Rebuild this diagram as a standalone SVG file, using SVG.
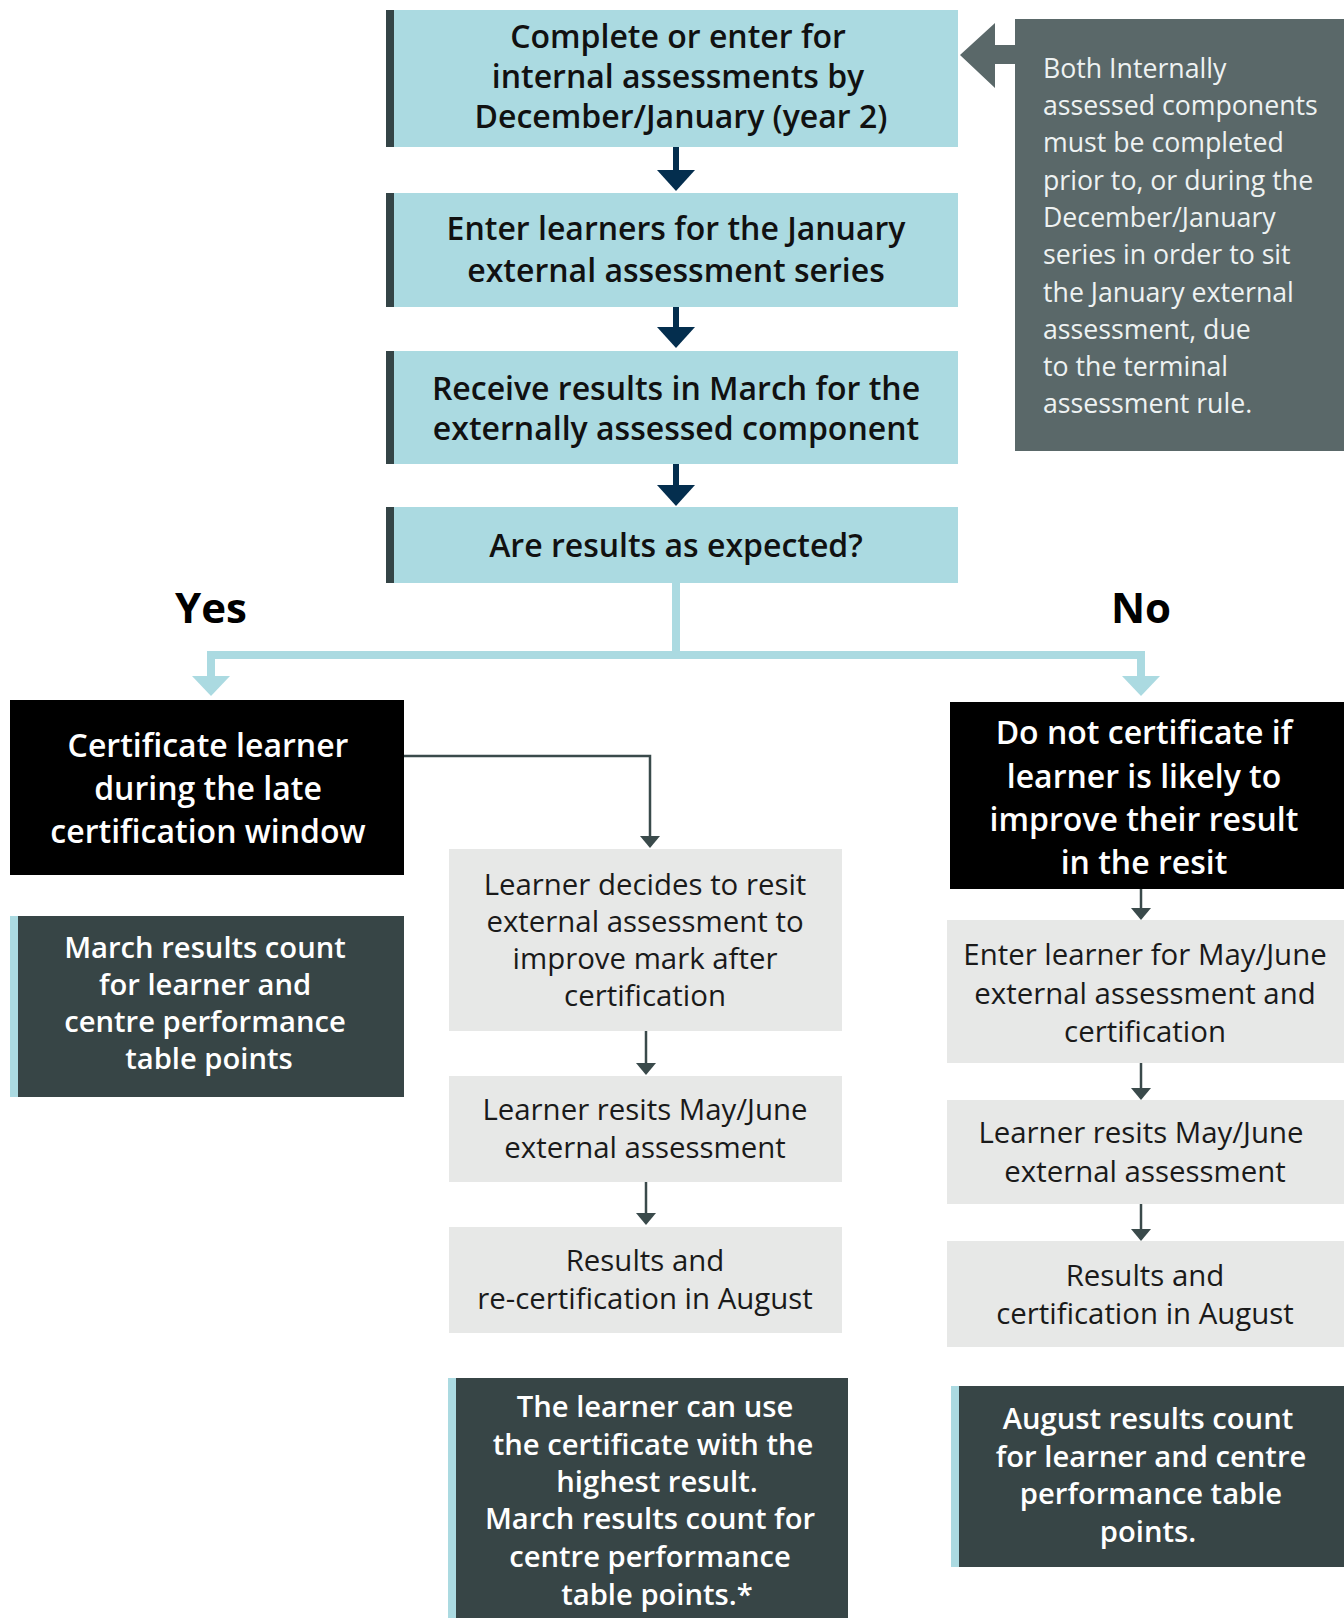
<svg xmlns="http://www.w3.org/2000/svg" width="1344" height="1618" viewBox="0 0 1344 1618">
<defs>
<style>
text{font-family:"Open Sans","Noto Sans","Liberation Sans",sans-serif;text-anchor:middle}
.blue{fill:#abdae1}
.bar{fill:#344446}
.t1{font-size:32px;font-weight:600;fill:#111}
.blk{fill:#000}
.tw{font-size:32px;font-weight:600;fill:#fff}
.grey{fill:#e7e8e7}
.tg{font-size:29.4px;font-weight:400;fill:#1a1a1a}
.dark{fill:#374546}
.lb{fill:#abdae1}
.td{font-size:29.2px;font-weight:600;fill:#fff}
.note{fill:#5a6869}
.tn{font-size:26.7px;font-weight:400;fill:#eef2f2;text-anchor:start}
.yn{font-size:42px;font-weight:700;fill:#000}
.navy{fill:#042e4e}
.sm{stroke:#3a4a4b;stroke-width:2.5;fill:none}
.smh{fill:#3a4a4b}
</style>
</defs>

<g id="connectors">
<rect class="navy" x="673" y="147" width="6" height="24"/><polygon class="navy" points="657,170 695,170 676,191"/>
<rect class="navy" x="673" y="307" width="6" height="22"/><polygon class="navy" points="657,327 695,327 676,348"/>
<rect class="navy" x="673" y="464" width="6" height="22"/><polygon class="navy" points="657,485 695,485 676,506"/>
<path d="M676,583 V655 M211,655 H1141 M211,651 V678 M1141,651 V678" stroke="#abdae1" stroke-width="8" fill="none"/>
<polygon fill="#abdae1" points="192,676 230,676 211,696"/>
<polygon fill="#abdae1" points="1122,676 1160,676 1141,696"/>
<polygon class="note" points="960,55 995,23 995,45 1016,45 1016,64 995,64 995,88"/>
<path class="sm" d="M404,756 H650 V838"/><polygon class="smh" points="640,836 660,836 650,848"/>
<path class="sm" d="M646,1031 V1066"/><polygon class="smh" points="636,1063 656,1063 646,1075"/>
<path class="sm" d="M646,1182 V1214"/><polygon class="smh" points="636,1213 656,1213 646,1225"/>
<path class="sm" d="M1141,889 V909"/><polygon class="smh" points="1131,908 1151,908 1141,920"/>
<path class="sm" d="M1141,1063 V1089"/><polygon class="smh" points="1131,1088 1151,1088 1141,1100"/>
<path class="sm" d="M1141,1204 V1230"/><polygon class="smh" points="1131,1229 1151,1229 1141,1241"/>
</g>

<g id="n1"><rect class="blue" x="386" y="10" width="572" height="137"/><rect class="bar" x="386" y="10" width="8" height="137"/>
<text class="t1" x="678" y="48">Complete or enter for</text><text class="t1" x="678" y="88">internal assessments by</text><text class="t1" x="681" y="128">December/January (year 2)</text></g>

<g id="n2"><rect class="blue" x="386" y="193" width="572" height="114"/><rect class="bar" x="386" y="193" width="8" height="114"/>
<text class="t1" x="676" y="240">Enter learners for the January</text><text class="t1" x="676" y="282">external assessment series</text></g>

<g id="n3"><rect class="blue" x="386" y="351" width="572" height="113"/><rect class="bar" x="386" y="351" width="8" height="113"/>
<text class="t1" x="676" y="400">Receive results in March for the</text><text class="t1" x="676" y="440">externally assessed component</text></g>

<g id="n4"><rect class="blue" x="386" y="507" width="572" height="76"/><rect class="bar" x="386" y="507" width="8" height="76"/>
<text class="t1" x="676" y="557">Are results as expected?</text></g>

<g id="note"><rect class="note" x="1015" y="19" width="329" height="432"/>
<text class="tn" x="1043" y="78">Both Internally</text>
<text class="tn" x="1043" y="115">assessed components</text>
<text class="tn" x="1043" y="152">must be completed</text>
<text class="tn" x="1043" y="190">prior to, or during the</text>
<text class="tn" x="1043" y="227">December/January</text>
<text class="tn" x="1043" y="264">series in order to sit</text>
<text class="tn" x="1043" y="302">the January external</text>
<text class="tn" x="1043" y="339">assessment, due</text>
<text class="tn" x="1043" y="376">to the terminal</text>
<text class="tn" x="1043" y="413">assessment rule.</text></g>

<g id="yes"><text class="yn" x="211" y="623">Yes</text></g>
<g id="no"><text class="yn" x="1141" y="623">No</text></g>

<g id="certify"><rect class="blk" x="10" y="700" width="394" height="175"/>
<text class="tw" x="208" y="757">Certificate learner</text><text class="tw" x="208" y="800">during the late</text><text class="tw" x="208" y="843">certification window</text></g>

<g id="march"><rect class="dark" x="10" y="916" width="394" height="181"/><rect class="lb" x="10" y="916" width="8" height="181"/>
<text class="td" x="205" y="958">March results count</text><text class="td" x="205" y="995">for learner and</text><text class="td" x="205" y="1032">centre performance</text><text class="td" x="209" y="1069">table points</text></g>

<g id="decide"><rect class="grey" x="449" y="849" width="393" height="182"/>
<text class="tg" x="645" y="895">Learner decides to resit</text><text class="tg" x="645" y="932">external assessment to</text><text class="tg" x="645" y="969">improve mark after</text><text class="tg" x="645" y="1006">certification</text></g>

<g id="resit1"><rect class="grey" x="449" y="1076" width="393" height="106"/>
<text class="tg" x="645" y="1120">Learner resits May/June</text><text class="tg" x="645" y="1158">external assessment</text></g>

<g id="recert"><rect class="grey" x="449" y="1227" width="393" height="106"/>
<text class="tg" x="645" y="1271">Results and</text><text class="tg" x="645" y="1309">re-certification in August</text></g>

<g id="highest"><rect class="dark" x="448" y="1378" width="400" height="240"/><rect class="lb" x="448" y="1378" width="8" height="240"/>
<text class="td" x="655" y="1417">The learner can use</text><text class="td" x="653" y="1455">the certificate with the</text><text class="td" x="657" y="1492">highest result.</text><text class="td" x="650" y="1529">March results count for</text><text class="td" x="650" y="1567">centre performance</text><text class="td" x="657" y="1605">table points.*</text></g>

<g id="donot"><rect class="blk" x="950" y="702" width="394" height="187"/>
<text class="tw" x="1144" y="744">Do not certificate if</text><text class="tw" x="1144" y="788">learner is likely to</text><text class="tw" x="1144" y="831">improve their result</text><text class="tw" x="1144" y="874">in the resit</text></g>

<g id="enter"><rect class="grey" x="947" y="920" width="397" height="143"/>
<text class="tg" x="1145" y="965">Enter learner for May/June</text><text class="tg" x="1145" y="1004">external assessment and</text><text class="tg" x="1145" y="1042">certification</text></g>

<g id="resit2"><rect class="grey" x="947" y="1100" width="397" height="104"/>
<text class="tg" x="1141" y="1143">Learner resits May/June</text><text class="tg" x="1145" y="1182">external assessment</text></g>

<g id="cert"><rect class="grey" x="947" y="1241" width="397" height="106"/>
<text class="tg" x="1145" y="1286">Results and</text><text class="tg" x="1145" y="1324">certification in August</text></g>

<g id="august"><rect class="dark" x="951" y="1386" width="393" height="181"/><rect class="lb" x="951" y="1386" width="8" height="181"/>
<text class="td" x="1148" y="1429">August results count</text><text class="td" x="1151" y="1467">for learner and centre</text><text class="td" x="1151" y="1504">performance table</text><text class="td" x="1148" y="1542">points.</text></g>
</svg>
